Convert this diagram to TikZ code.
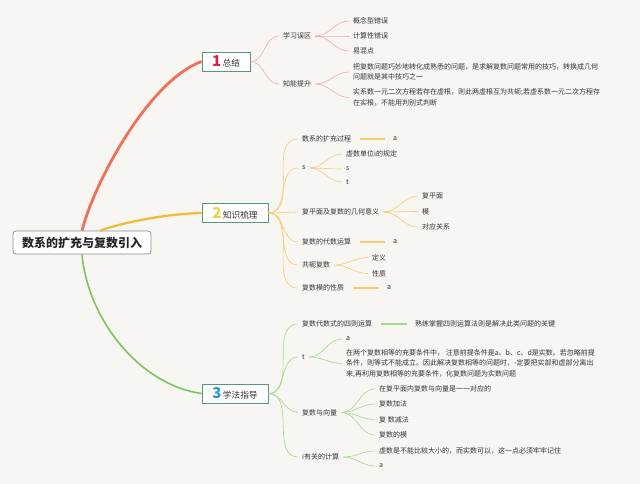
\documentclass[tikz,border=0pt]{standalone}
\usepackage{fontspec}
\setmainfont{Noto Sans CJK SC}
\usepackage{xcolor}
\definecolor{PageBg}{RGB}{248,246,242}
\definecolor{TextGray}{RGB}{51,51,51}
\definecolor{RootGray}{RGB}{140,140,140}
\definecolor{BoxTeal}{RGB}{86,150,130}
\definecolor{LineRed}{RGB}{240,110,90}
\definecolor{LineOrange}{RGB}{245,185,50}
\definecolor{LineGreen}{RGB}{125,195,95}
\definecolor{TwigRed}{RGB}{240,170,170}
\definecolor{TwigOrange}{RGB}{245,205,110}
\definecolor{TwigGreen}{RGB}{165,215,140}
\definecolor{NumRed}{RGB}{215,35,75}
\definecolor{NumYellow}{RGB}{240,210,60}
\definecolor{NumBlue}{RGB}{40,155,215}
\usepackage{tikz}
\usetikzlibrary{positioning}
\newcommand{\topicnum}[2]{{\fontsize{15}{15}\selectfont\bfseries\color{#1}#2}}
\tikzset{
  % Central topic
  rootbox/.style={
    rectangle, rounded corners=3pt,
    draw=RootGray, line width=0.8pt,
    fill=white,
    minimum width=138pt, minimum height=23pt,
    font=\fontsize{12}{14}\selectfont\bfseries,
    text=black!85, inner sep=2pt
  },
  % Numbered main topics
  topicbox/.style={
    rectangle, draw=BoxTeal, line width=0.8pt,
    fill=white,
    minimum height=19pt, inner xsep=4pt, inner ysep=1pt,
    font=\fontsize{8.7}{10}\selectfont, text=TextGray
  },
  % Sub topics
  leaf/.style={
    anchor=west, inner xsep=4pt, inner ysep=1pt,
    font=\fontsize{7}{10.5}\selectfont, text=TextGray,
    align=left
  },
  % Branch lines
  main red/.style={LineRed, line width=2.8pt},
  main orange/.style={LineOrange, line width=2.2pt},
  main green/.style={LineGreen, line width=1.6pt},
  twig red/.style={TwigRed, line width=0.6pt},
  twig orange/.style={TwigOrange, line width=0.6pt},
  twig green/.style={TwigGreen, line width=0.6pt},
  stub orange/.style={TwigOrange, line width=1.2pt, shorten <=5pt, shorten >=4pt},
  stub green/.style={TwigGreen, line width=1.2pt, shorten <=5pt, shorten >=4pt},
}

\begin{document}
\begin{tikzpicture}[x=1pt, y=-1pt]

  \fill[PageBg] (0,0) rectangle (640,484);
  \useasboundingbox (0,0) rectangle (640,484);

  \node[rootbox] (root) at (82,242.5) {数系的扩充与复数引入};

  \node[topicbox, minimum width=48pt] (sum) at (226,61.5)
    {\topicnum{NumRed}{1}\,总结};
  \node[topicbox, minimum width=66pt] (know) at (235,213)
    {\topicnum{NumYellow}{2}\,知识梳理};
  \node[topicbox, minimum width=66pt] (meth) at (235,393.5)
    {\topicnum{NumBlue}{3}\,学法指导};

  %% 1 总结
  \node[leaf] (sumErr) at (279,36) {学习误区};
  \node[leaf] (sumUp)  at (279,84) {知能提升};

  \node[leaf] (errA) at (349,21) {概念型错误};
  \node[leaf] (errB) at (349,36) {计算性错误};
  \node[leaf] (errC) at (349,51) {易混点};

  \node[leaf] (upA) at (349,72)
    {把复数问题巧妙地转化成熟悉的问题，是求解复数问题常用的技巧，转换成几何\\问题就是其中技巧之一};
  \node[leaf] (upB) at (349,97.5)
    {实系数一元二次方程若存在虚根，则此两虚根互为共轭;若虚系数一元二次方程存\\在实根，不能用判别式判断};

  %% 2 知识梳理
  \node[leaf] (kExt)  at (298,139) {数系的扩充过程};
  \node[leaf] (kS)    at (298,168) {s};
  \node[leaf] (kGeo)  at (298,212) {复平面及复数的几何意义};
  \node[leaf] (kAlg)  at (298,242) {复数的代数运算};
  \node[leaf] (kConj) at (298,265) {共轭复数};
  \node[leaf] (kMod)  at (298,288) {复数模的性质};

  \node[leaf] (kExtA) at (389,139) {a};
  \node[leaf] (sA) at (342,154) {虚数单位i的规定};
  \node[leaf] (sB) at (342,169) {s};
  \node[leaf] (sC) at (342,182) {t};
  \node[leaf] (geoA) at (418,196) {复平面};
  \node[leaf] (geoB) at (418,211.5) {模};
  \node[leaf] (geoC) at (418,227) {对应关系};
  \node[leaf] (kAlgA) at (389,242) {a};
  \node[leaf] (conjA) at (368,257.5) {定义};
  \node[leaf] (conjB) at (368,273.5) {性质};
  \node[leaf] (kModA) at (383,288) {a};

  %% 3 学法指导
  \node[leaf] (mOps) at (298,324) {复数代数式的四则运算};
  \node[leaf] (mT)   at (298,357) {t};
  \node[leaf] (mVec) at (298,412.5) {复数与向量};
  \node[leaf] (mI)   at (298,457) {i有关的计算};

  \node[leaf] (opsA) at (411,324) {熟练掌握四则运算法则是解决此类问题的关键};
  \node[leaf] (tA) at (342,339) {a};
  \node[leaf] (tB) at (342,363.5)
    {在两个复数相等的充要条件中， 注意前提条件是a、b、c、d是实数。若忽略前提\\条件，则等式不能成立。因此解决复数相等的问题时，-定要把实部和虚部分离出\\来,再利用复数相等的充要条件，化复数问题为实数问题};
  \node[leaf] (vecA) at (375,389) {在复平面内复数与向量是一一对应的};
  \node[leaf] (vecB) at (375,404) {复数加法};
  \node[leaf] (vecC) at (375,419.5) {复 数减法};
  \node[leaf] (vecD) at (375,435) {复数的模};
  \node[leaf] (iA) at (375,451) {虚数是不能比较大小的，而实数可以，这一点必须牢牢记住};
  \node[leaf] (iB) at (375,466) {a};

  %% Main branches
  \draw[main red] (root.north) .. controls (95,180) and (150,80) .. (sum.west);
  \draw[main orange] ([xshift=18pt]root.north) .. controls (125,222) and (165,214) .. (know.west);
  \draw[main green] (root.south) .. controls (88,320) and (140,385) .. (meth.west);

  %% Twigs of 1
  \draw[twig red] (sum.east) to[out=0, in=180] (sumErr.west);
  \draw[twig red] (sum.east) to[out=0, in=180] (sumUp.west);
  \draw[twig red] (sumErr.east) to[out=0, in=180] (errA.west);
  \draw[twig red] (sumErr.east) to[out=0, in=180] (errB.west);
  \draw[twig red] (sumErr.east) to[out=0, in=180] (errC.west);
  \draw[twig red] (sumUp.east) to[out=0, in=180] (upA.west);
  \draw[twig red] (sumUp.east) to[out=0, in=180] (upB.west);

  %% Twigs of 2
  \draw[twig orange] (know.east) to[out=0, in=180] (kExt.west);
  \draw[twig orange] (know.east) to[out=0, in=180] (kS.west);
  \draw[twig orange] (know.east) to[out=0, in=180] (kGeo.west);
  \draw[twig orange] (know.east) to[out=0, in=180] (kAlg.west);
  \draw[twig orange] (know.east) to[out=0, in=180] (kConj.west);
  \draw[twig orange] (know.east) to[out=0, in=180] (kMod.west);
  \draw[stub orange] (kExt) -- (kExtA);
  \draw[twig orange] (kS.east) to[out=0, in=180] (sA.west);
  \draw[twig orange] (kS.east) to[out=0, in=180] (sB.west);
  \draw[twig orange] (kS.east) to[out=0, in=180] (sC.west);
  \draw[twig orange] (kGeo.east) to[out=0, in=180] (geoA.west);
  \draw[twig orange] (kGeo.east) to[out=0, in=180] (geoB.west);
  \draw[twig orange] (kGeo.east) to[out=0, in=180] (geoC.west);
  \draw[stub orange] (kAlg) -- (kAlgA);
  \draw[twig orange] (kConj.east) to[out=0, in=180] (conjA.west);
  \draw[twig orange] (kConj.east) to[out=0, in=180] (conjB.west);
  \draw[stub orange] (kMod) -- (kModA);

  %% Twigs of 3
  \draw[twig green] (meth.east) to[out=0, in=180] (mOps.west);
  \draw[twig green] (meth.east) to[out=0, in=180] (mT.west);
  \draw[twig green] (meth.east) to[out=0, in=180] (mVec.west);
  \draw[twig green] (meth.east) to[out=0, in=180] (mI.west);
  \draw[stub green] (mOps) -- (opsA);
  \draw[twig green] (mT.east) to[out=0, in=180] (tA.west);
  \draw[twig green] (mT.east) to[out=0, in=180] (tB.west);
  \draw[twig green] (mVec.east) to[out=0, in=180] (vecA.west);
  \draw[twig green] (mVec.east) to[out=0, in=180] (vecB.west);
  \draw[twig green] (mVec.east) to[out=0, in=180] (vecC.west);
  \draw[twig green] (mVec.east) to[out=0, in=180] (vecD.west);
  \draw[twig green] (mI.east) to[out=0, in=180] (iA.west);
  \draw[twig green] (mI.east) to[out=0, in=180] (iB.west);

\end{tikzpicture}
\end{document}
